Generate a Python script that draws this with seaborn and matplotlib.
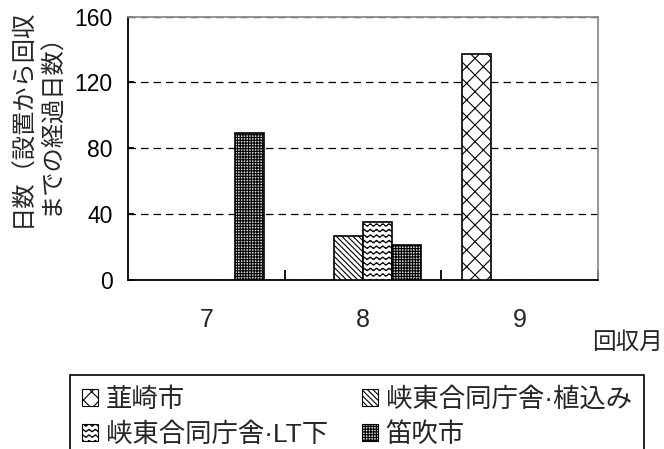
import warnings
import numpy as np
import pandas as pd
import matplotlib
matplotlib.use("Agg")
import matplotlib.pyplot as plt
import matplotlib.hatch as mhatch
from matplotlib.path import Path
from matplotlib.patches import Patch
import seaborn as sns

warnings.filterwarnings("ignore")

# ---- data -------------------------------------------------------------
months = ["7", "8", "9"]
sites = ["韮崎市", "峡東合同庁舎·植込み", "峡東合同庁舎·LT下", "笛吹市"]
nirasaki = [np.nan, np.nan, 137]
kyoto_uekomi = [np.nan, 27, np.nan]
kyoto_lt = [np.nan, 35, np.nan]
fuefuki = [89, 21, np.nan]
y_ticks = [0, 40, 80, 120, 160]

values = {sites[0]: nirasaki, sites[1]: kyoto_uekomi,
          sites[2]: kyoto_lt, sites[3]: fuefuki}
df = pd.DataFrame([(m, s, v) for s in sites for m, v in zip(months, values[s])],
                  columns=["回収月", "地点", "日数"]).dropna()


# ---- wavy hatch pattern ('~') ------------------------------------------
class WaveHatch(mhatch.HatchPatternBase):
    def __init__(self, hatch, density):
        self.num_rows = int(hatch.count("~") * density)
        self.periods = 16
        self.pts = self.periods * 8 + 1
        self.num_vertices = self.num_rows * self.pts

    def set_vertices_and_codes(self, vertices, codes):
        x = np.linspace(0.0, 1.0, self.pts)
        amp = 0.22 / self.num_rows
        for i in range(self.num_rows):
            y = (i + 0.5) / self.num_rows + amp * np.sin(2 * np.pi * self.periods * x)
            sl = slice(i * self.pts, (i + 1) * self.pts)
            vertices[sl, 0] = x
            vertices[sl, 1] = y
            codes[sl] = Path.LINETO
            codes[i * self.pts] = Path.MOVETO


if WaveHatch not in mhatch._hatch_types:
    mhatch._hatch_types.append(WaveHatch)

# ---- style -------------------------------------------------------------
sns.set_theme(style="white")
plt.rcParams["font.family"] = ["Liberation Sans", "Noto Sans CJK JP"]
plt.rcParams["hatch.linewidth"] = 0.8

hatches = ["xx", "\\" * 6, "~~~", "++++++"]
faces = ["white", "white", "white", "#d0d0d0"]

fig = plt.figure(figsize=(6.64, 4.49), dpi=100)
ax = fig.add_axes([128 / 664, 1 - 280 / 449, 470 / 664, 263.5 / 449])

bar_width = 0.74
sns.barplot(data=df, x="回収月", y="日数", hue="地点", order=months,
            hue_order=sites, width=bar_width, dodge=True,
            palette=["white"] * len(sites), saturation=1, errorbar=None,
            edgecolor="black", linewidth=1.2, legend=False, ax=ax)

# style each bar according to its position within the group
step = bar_width / len(sites)
for bar in ax.patches:
    cx = bar.get_x() + bar.get_width() / 2
    idx = int(round((cx - round(cx)) / step + (len(sites) - 1) / 2))
    bar.set_hatch(hatches[idx])
    bar.set_facecolor(faces[idx])
    bar.set_zorder(3)

ax.set_ylim(0, 160)
ax.set_yticks(y_ticks)
ax.set_xlim(-0.5, len(months) - 0.5)
ax.set_xticks(range(len(months)))
ax.set_xticklabels(months)

ax.yaxis.grid(True, color="black", linestyle=(0, (6, 4)), linewidth=0.9)
ax.xaxis.grid(False)
ax.set_axisbelow(True)

for side in ["left", "bottom"]:
    ax.spines[side].set_color("black")
    ax.spines[side].set_linewidth(1.3)
for side in ["top", "right"]:
    ax.spines[side].set_color("#8c8c8c")
    ax.spines[side].set_linewidth(1.3)

ax.tick_params(axis="y", direction="in", length=4, width=1.3, labelsize=16.5,
               pad=11, left=True, colors="black")
ax.tick_params(axis="x", which="major", length=0, labelsize=18, pad=20)
ax.set_xticks([0.5, 1.5, 2.5], minor=True)
ax.tick_params(axis="x", which="minor", direction="in", length=7, width=1.3,
               bottom=True, color="black")

ax.set_ylabel("日数（設置から回収\nまでの経過日数）", fontsize=17.5,
              va="center", ha="center", linespacing=1.3)
ax.yaxis.set_label_coords((37 - 128) / 470, (280 - 118) / 263.5)
ax.set_xlabel("回収月", fontsize=17, ha="right", va="center")
ax.xaxis.set_label_coords((663 - 128) / 470, (280 - 343) / 263.5)

# legend, two columns filled row by row
order = [0, 2, 1, 3]
handles = [Patch(facecolor=faces[i], edgecolor="black", hatch=hatches[i],
                 linewidth=0.8) for i in order]
labels = [sites[i] for i in order]
leg = fig.legend(handles, labels, ncol=2, loc="upper left",
                 bbox_to_anchor=(70 / 664, 1 - 375 / 449),
                 frameon=True, fancybox=False, edgecolor="black",
                 fontsize=19, handlelength=0.6, handleheight=0.6,
                 handletextpad=0.3, columnspacing=1.3, borderaxespad=0,
                 borderpad=0.45, labelspacing=0.4)
leg.get_frame().set_linewidth(1.2)
leg.get_frame().set_alpha(1)

fig.savefig("out.png", dpi=100)
